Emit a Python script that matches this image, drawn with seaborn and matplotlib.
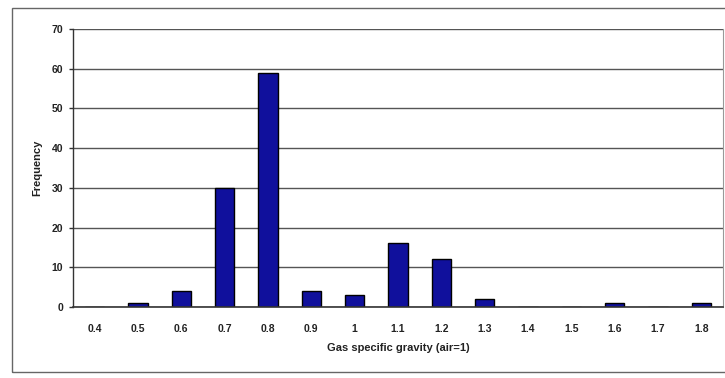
import matplotlib
matplotlib.use("Agg")
import matplotlib.pyplot as plt
import seaborn as sns
import pandas as pd
import numpy as np
from matplotlib.patches import Rectangle

categories = ["0.4", "0.5", "0.6", "0.7", "0.8", "0.9", "1", "1.1", "1.2", "1.3", "1.4", "1.5", "1.6", "1.7", "1.8"]
frequency = [0, 1, 4, 30, 59, 4, 3, 16, 12, 2, 0, 0, 1, 0, 1]
y_ticks = [0, 10, 20, 30, 40, 50, 60, 70]

sns.set_theme(style="white")
plt.rcParams['font.family'] = ['Liberation Sans', 'DejaVu Sans']

df = pd.DataFrame({"sg": categories, "freq": frequency})

fig = plt.figure(figsize=(7.25, 3.78), dpi=100)
fig.patch.set_facecolor("white")
fig.patches.append(Rectangle((12/725, 1-372/378), 0.99, (372-8)/378, transform=fig.transFigure,
                             fill=False, edgecolor="#666666", linewidth=1.0))
ax = fig.add_axes([73/725, 1-307/378, (723-73)/725, (307-29)/378])

sns.barplot(data=df, x="sg", y="freq", order=categories, color="#10109c",
            edgecolor="black", linewidth=1.0, width=0.45, saturation=1, ax=ax)

ax.set_xlim(-0.5, len(categories)-0.5)
ax.set_ylim(0, 70)
ax.set_yticks(y_ticks)
ax.set_yticklabels([str(t) for t in y_ticks], fontsize=7.5, fontweight="bold", color="#222222")
ax.set_xticklabels(categories, fontsize=7.5, fontweight="bold", color="#222222")
ax.set_xticks(np.arange(-0.5, len(categories)), minor=True)
ax.tick_params(axis="x", which="major", length=0, pad=12)
ax.tick_params(axis="x", which="minor", length=3, width=1, color="#333333", direction="out")
ax.tick_params(axis="y", which="major", length=3, width=1, color="#333333", direction="out", left=True, pad=4)
ax.yaxis.grid(True, color="#555555", linewidth=1.0)
ax.set_axisbelow(True)
ax.spines["top"].set_visible(False)
ax.spines["right"].set_color("#999999")
ax.spines["right"].set_linewidth(0.8)
ax.spines["left"].set_color("#333333")
ax.spines["bottom"].set_color("#333333")
ax.spines["left"].set_linewidth(1.0)
ax.spines["bottom"].set_linewidth(1.2)

ax.set_xlabel("Gas specific gravity (air=1)", fontsize=8, fontweight="bold", color="#222222", labelpad=7)
ax.set_ylabel("Frequency", fontsize=8, fontweight="bold", color="#222222", labelpad=7)

fig.savefig("out.png", dpi=100)
